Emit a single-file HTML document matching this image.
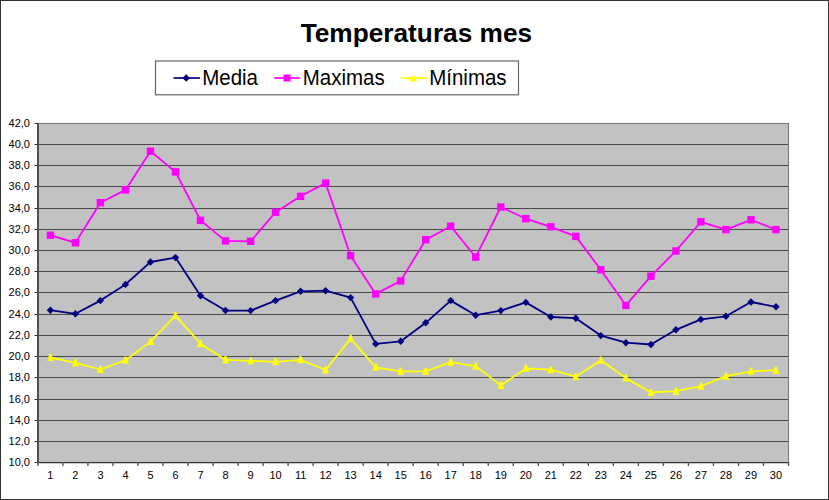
<!DOCTYPE html><html><head><meta charset="utf-8"><style>
html,body{margin:0;padding:0;background:#fff;overflow:hidden;width:829px;height:500px;}
svg{display:block;}
text{font-family:"Liberation Sans",sans-serif;}
</style></head><body>
<svg width="829" height="500" viewBox="0 0 829 500">
<rect x="0" y="0" width="829" height="500" fill="#fff"/>
<rect x="0.5" y="0.5" width="828" height="499" fill="none" stroke="#333" stroke-width="1"/>
<text x="416.4" y="41.9" text-anchor="middle" font-weight="bold" font-size="25.7" fill="#000" transform="translate(416.4 0) scale(1.022 1) translate(-416.4 0)">Temperaturas mes</text>
<rect x="155.5" y="61" width="363" height="33.8" fill="#fff" stroke="#666" stroke-width="1.2"/>
<line x1="173.5" y1="78" x2="200" y2="78" stroke="#000080" stroke-width="1.7"/>
<path d="M186.2 74.3 L189.9 78 L186.2 81.7 L182.5 78 Z" fill="#000080"/>
<text x="0" y="85.0" font-size="21.5" fill="#000" transform="translate(202.2 0) scale(0.953 1)">Media</text>
<line x1="274.2" y1="78" x2="300" y2="78" stroke="#ff00ff" stroke-width="1.7"/>
<rect x="283.5" y="74.5" width="7" height="7" fill="#ff00ff"/>
<text x="0" y="85.0" font-size="21.5" fill="#000" transform="translate(302.7 0) scale(0.953 1)">Maximas</text>
<line x1="400.7" y1="78" x2="427" y2="78" stroke="#ffff00" stroke-width="1.7"/>
<path d="M413.2 74.2 L417 81.2 L409.4 81.2 Z" fill="#ffff00"/>
<text x="0" y="85.0" font-size="21.5" fill="#000" transform="translate(429.2 0) scale(0.953 1)">Mínimas</text>
<rect x="38" y="123" width="750" height="339" fill="#c2c2c2"/>
<line x1="38" y1="144.5" x2="788" y2="144.5" stroke="#4a4a4a" stroke-width="1.0"/>
<line x1="38" y1="165.5" x2="788" y2="165.5" stroke="#4a4a4a" stroke-width="1.0"/>
<line x1="38" y1="186.5" x2="788" y2="186.5" stroke="#4a4a4a" stroke-width="1.0"/>
<line x1="38" y1="208.5" x2="788" y2="208.5" stroke="#4a4a4a" stroke-width="1.0"/>
<line x1="38" y1="229.5" x2="788" y2="229.5" stroke="#4a4a4a" stroke-width="1.0"/>
<line x1="38" y1="250.5" x2="788" y2="250.5" stroke="#4a4a4a" stroke-width="1.0"/>
<line x1="38" y1="271.5" x2="788" y2="271.5" stroke="#4a4a4a" stroke-width="1.0"/>
<line x1="38" y1="292.5" x2="788" y2="292.5" stroke="#4a4a4a" stroke-width="1.0"/>
<line x1="38" y1="314.5" x2="788" y2="314.5" stroke="#4a4a4a" stroke-width="1.0"/>
<line x1="38" y1="335.5" x2="788" y2="335.5" stroke="#4a4a4a" stroke-width="1.0"/>
<line x1="38" y1="356.5" x2="788" y2="356.5" stroke="#4a4a4a" stroke-width="1.0"/>
<line x1="38" y1="377.5" x2="788" y2="377.5" stroke="#4a4a4a" stroke-width="1.0"/>
<line x1="38" y1="399.5" x2="788" y2="399.5" stroke="#4a4a4a" stroke-width="1.0"/>
<line x1="38" y1="420.5" x2="788" y2="420.5" stroke="#4a4a4a" stroke-width="1.0"/>
<line x1="38" y1="441.5" x2="788" y2="441.5" stroke="#4a4a4a" stroke-width="1.0"/>
<line x1="38" y1="123.44" x2="789" y2="123.44" stroke="#787878" stroke-width="1"/>
<line x1="788.5" y1="123" x2="788.5" y2="462" stroke="#787878" stroke-width="1"/>
<rect x="37" y="123" width="2" height="340" fill="#505050"/>
<line x1="37" y1="462.6" x2="789" y2="462.6" stroke="#333" stroke-width="1.3"/>
<line x1="34.5" y1="123.5" x2="38" y2="123.5" stroke="#333" stroke-width="1"/>
<text x="30" y="127.04" text-anchor="end" font-size="11" fill="#000">42,0</text>
<line x1="34.5" y1="144.5" x2="38" y2="144.5" stroke="#333" stroke-width="1"/>
<text x="30" y="147.60" text-anchor="end" font-size="11" fill="#000">40,0</text>
<line x1="34.5" y1="165.5" x2="38" y2="165.5" stroke="#333" stroke-width="1"/>
<text x="30" y="168.90" text-anchor="end" font-size="11" fill="#000">38,0</text>
<line x1="34.5" y1="186.5" x2="38" y2="186.5" stroke="#333" stroke-width="1"/>
<text x="30" y="190.40" text-anchor="end" font-size="11" fill="#000">36,0</text>
<line x1="34.5" y1="208.5" x2="38" y2="208.5" stroke="#333" stroke-width="1"/>
<text x="30" y="211.60" text-anchor="end" font-size="11" fill="#000">34,0</text>
<line x1="34.5" y1="229.5" x2="38" y2="229.5" stroke="#333" stroke-width="1"/>
<text x="30" y="232.90" text-anchor="end" font-size="11" fill="#000">32,0</text>
<line x1="34.5" y1="250.5" x2="38" y2="250.5" stroke="#333" stroke-width="1"/>
<text x="30" y="253.90" text-anchor="end" font-size="11" fill="#000">30,0</text>
<line x1="34.5" y1="271.5" x2="38" y2="271.5" stroke="#333" stroke-width="1"/>
<text x="30" y="274.90" text-anchor="end" font-size="11" fill="#000">28,0</text>
<line x1="34.5" y1="292.5" x2="38" y2="292.5" stroke="#333" stroke-width="1"/>
<text x="30" y="296.40" text-anchor="end" font-size="11" fill="#000">26,0</text>
<line x1="34.5" y1="314.5" x2="38" y2="314.5" stroke="#333" stroke-width="1"/>
<text x="30" y="317.60" text-anchor="end" font-size="11" fill="#000">24,0</text>
<line x1="34.5" y1="335.5" x2="38" y2="335.5" stroke="#333" stroke-width="1"/>
<text x="30" y="338.90" text-anchor="end" font-size="11" fill="#000">22,0</text>
<line x1="34.5" y1="356.5" x2="38" y2="356.5" stroke="#333" stroke-width="1"/>
<text x="30" y="359.90" text-anchor="end" font-size="11" fill="#000">20,0</text>
<line x1="34.5" y1="377.5" x2="38" y2="377.5" stroke="#333" stroke-width="1"/>
<text x="30" y="381.00" text-anchor="end" font-size="11" fill="#000">18,0</text>
<line x1="34.5" y1="399.5" x2="38" y2="399.5" stroke="#333" stroke-width="1"/>
<text x="30" y="403.00" text-anchor="end" font-size="11" fill="#000">16,0</text>
<line x1="34.5" y1="420.5" x2="38" y2="420.5" stroke="#333" stroke-width="1"/>
<text x="30" y="424.00" text-anchor="end" font-size="11" fill="#000">14,0</text>
<line x1="34.5" y1="441.5" x2="38" y2="441.5" stroke="#333" stroke-width="1"/>
<text x="30" y="445.00" text-anchor="end" font-size="11" fill="#000">12,0</text>
<line x1="34.5" y1="462.5" x2="38" y2="462.5" stroke="#333" stroke-width="1"/>
<text x="30" y="466.10" text-anchor="end" font-size="11" fill="#000">10,0</text>
<line x1="37.90" y1="462" x2="37.90" y2="466" stroke="#555" stroke-width="1.4"/>
<line x1="62.92" y1="462" x2="62.92" y2="466" stroke="#555" stroke-width="1.4"/>
<line x1="87.94" y1="462" x2="87.94" y2="466" stroke="#555" stroke-width="1.4"/>
<line x1="112.96" y1="462" x2="112.96" y2="466" stroke="#555" stroke-width="1.4"/>
<line x1="137.98" y1="462" x2="137.98" y2="466" stroke="#555" stroke-width="1.4"/>
<line x1="163.00" y1="462" x2="163.00" y2="466" stroke="#555" stroke-width="1.4"/>
<line x1="188.02" y1="462" x2="188.02" y2="466" stroke="#555" stroke-width="1.4"/>
<line x1="213.04" y1="462" x2="213.04" y2="466" stroke="#555" stroke-width="1.4"/>
<line x1="238.06" y1="462" x2="238.06" y2="466" stroke="#555" stroke-width="1.4"/>
<line x1="263.08" y1="462" x2="263.08" y2="466" stroke="#555" stroke-width="1.4"/>
<line x1="288.10" y1="462" x2="288.10" y2="466" stroke="#555" stroke-width="1.4"/>
<line x1="313.12" y1="462" x2="313.12" y2="466" stroke="#555" stroke-width="1.4"/>
<line x1="338.14" y1="462" x2="338.14" y2="466" stroke="#555" stroke-width="1.4"/>
<line x1="363.16" y1="462" x2="363.16" y2="466" stroke="#555" stroke-width="1.4"/>
<line x1="388.18" y1="462" x2="388.18" y2="466" stroke="#555" stroke-width="1.4"/>
<line x1="413.20" y1="462" x2="413.20" y2="466" stroke="#555" stroke-width="1.4"/>
<line x1="438.22" y1="462" x2="438.22" y2="466" stroke="#555" stroke-width="1.4"/>
<line x1="463.24" y1="462" x2="463.24" y2="466" stroke="#555" stroke-width="1.4"/>
<line x1="488.26" y1="462" x2="488.26" y2="466" stroke="#555" stroke-width="1.4"/>
<line x1="513.28" y1="462" x2="513.28" y2="466" stroke="#555" stroke-width="1.4"/>
<line x1="538.30" y1="462" x2="538.30" y2="466" stroke="#555" stroke-width="1.4"/>
<line x1="563.32" y1="462" x2="563.32" y2="466" stroke="#555" stroke-width="1.4"/>
<line x1="588.34" y1="462" x2="588.34" y2="466" stroke="#555" stroke-width="1.4"/>
<line x1="613.36" y1="462" x2="613.36" y2="466" stroke="#555" stroke-width="1.4"/>
<line x1="638.38" y1="462" x2="638.38" y2="466" stroke="#555" stroke-width="1.4"/>
<line x1="663.40" y1="462" x2="663.40" y2="466" stroke="#555" stroke-width="1.4"/>
<line x1="688.42" y1="462" x2="688.42" y2="466" stroke="#555" stroke-width="1.4"/>
<line x1="713.44" y1="462" x2="713.44" y2="466" stroke="#555" stroke-width="1.4"/>
<line x1="738.46" y1="462" x2="738.46" y2="466" stroke="#555" stroke-width="1.4"/>
<line x1="763.48" y1="462" x2="763.48" y2="466" stroke="#555" stroke-width="1.4"/>
<line x1="788.50" y1="462" x2="788.50" y2="466" stroke="#555" stroke-width="1.4"/>
<text x="50.4" y="478.7" text-anchor="middle" font-size="11" fill="#000">1</text>
<text x="75.42" y="478.7" text-anchor="middle" font-size="11" fill="#000">2</text>
<text x="100.44" y="478.7" text-anchor="middle" font-size="11" fill="#000">3</text>
<text x="125.46000000000001" y="478.7" text-anchor="middle" font-size="11" fill="#000">4</text>
<text x="150.48" y="478.7" text-anchor="middle" font-size="11" fill="#000">5</text>
<text x="175.5" y="478.7" text-anchor="middle" font-size="11" fill="#000">6</text>
<text x="200.52" y="478.7" text-anchor="middle" font-size="11" fill="#000">7</text>
<text x="225.54" y="478.7" text-anchor="middle" font-size="11" fill="#000">8</text>
<text x="250.56" y="478.7" text-anchor="middle" font-size="11" fill="#000">9</text>
<text x="275.58" y="478.7" text-anchor="middle" font-size="11" fill="#000">10</text>
<text x="300.59999999999997" y="478.7" text-anchor="middle" font-size="11" fill="#000">11</text>
<text x="325.61999999999995" y="478.7" text-anchor="middle" font-size="11" fill="#000">12</text>
<text x="350.64" y="478.7" text-anchor="middle" font-size="11" fill="#000">13</text>
<text x="375.65999999999997" y="478.7" text-anchor="middle" font-size="11" fill="#000">14</text>
<text x="400.67999999999995" y="478.7" text-anchor="middle" font-size="11" fill="#000">15</text>
<text x="425.7" y="478.7" text-anchor="middle" font-size="11" fill="#000">16</text>
<text x="450.71999999999997" y="478.7" text-anchor="middle" font-size="11" fill="#000">17</text>
<text x="475.73999999999995" y="478.7" text-anchor="middle" font-size="11" fill="#000">18</text>
<text x="500.76" y="478.7" text-anchor="middle" font-size="11" fill="#000">19</text>
<text x="525.78" y="478.7" text-anchor="middle" font-size="11" fill="#000">20</text>
<text x="550.8" y="478.7" text-anchor="middle" font-size="11" fill="#000">21</text>
<text x="575.8199999999999" y="478.7" text-anchor="middle" font-size="11" fill="#000">22</text>
<text x="600.8399999999999" y="478.7" text-anchor="middle" font-size="11" fill="#000">23</text>
<text x="625.86" y="478.7" text-anchor="middle" font-size="11" fill="#000">24</text>
<text x="650.88" y="478.7" text-anchor="middle" font-size="11" fill="#000">25</text>
<text x="675.9" y="478.7" text-anchor="middle" font-size="11" fill="#000">26</text>
<text x="700.92" y="478.7" text-anchor="middle" font-size="11" fill="#000">27</text>
<text x="725.9399999999999" y="478.7" text-anchor="middle" font-size="11" fill="#000">28</text>
<text x="750.9599999999999" y="478.7" text-anchor="middle" font-size="11" fill="#000">29</text>
<text x="775.98" y="478.7" text-anchor="middle" font-size="11" fill="#000">30</text>
<polyline points="50.4,310.2 75.4,313.8 100.4,300.6 125.5,284.4 150.5,262.0 175.5,257.6 200.5,295.8 225.5,310.5 250.6,310.6 275.6,300.6 300.6,291.3 325.6,290.7 350.6,297.6 375.7,343.9 400.7,341.3 425.7,322.8 450.7,300.6 475.7,315.2 500.8,310.6 525.8,302.4 550.8,317.0 575.8,318.2 600.8,335.6 625.9,342.7 650.9,344.5 675.9,329.8 700.9,319.4 725.9,316.3 751.0,302.0 776.0,306.8" fill="none" stroke="#000080" stroke-width="1.8" stroke-linejoin="round"/>
<path d="M50.4 306.5 L54.1 310.2 L50.4 313.9 L46.7 310.2 Z" fill="#000080"/>
<path d="M75.4 310.1 L79.1 313.8 L75.4 317.5 L71.7 313.8 Z" fill="#000080"/>
<path d="M100.4 296.9 L104.1 300.6 L100.4 304.3 L96.7 300.6 Z" fill="#000080"/>
<path d="M125.5 280.7 L129.2 284.4 L125.5 288.1 L121.8 284.4 Z" fill="#000080"/>
<path d="M150.5 258.3 L154.2 262.0 L150.5 265.7 L146.8 262.0 Z" fill="#000080"/>
<path d="M175.5 253.9 L179.2 257.6 L175.5 261.3 L171.8 257.6 Z" fill="#000080"/>
<path d="M200.5 292.1 L204.2 295.8 L200.5 299.5 L196.8 295.8 Z" fill="#000080"/>
<path d="M225.5 306.8 L229.2 310.5 L225.5 314.2 L221.8 310.5 Z" fill="#000080"/>
<path d="M250.6 306.9 L254.3 310.6 L250.6 314.3 L246.9 310.6 Z" fill="#000080"/>
<path d="M275.6 296.9 L279.3 300.6 L275.6 304.3 L271.9 300.6 Z" fill="#000080"/>
<path d="M300.6 287.6 L304.3 291.3 L300.6 295.0 L296.9 291.3 Z" fill="#000080"/>
<path d="M325.6 287.0 L329.3 290.7 L325.6 294.4 L321.9 290.7 Z" fill="#000080"/>
<path d="M350.6 293.9 L354.3 297.6 L350.6 301.3 L346.9 297.6 Z" fill="#000080"/>
<path d="M375.7 340.2 L379.4 343.9 L375.7 347.6 L372.0 343.9 Z" fill="#000080"/>
<path d="M400.7 337.6 L404.4 341.3 L400.7 345.0 L397.0 341.3 Z" fill="#000080"/>
<path d="M425.7 319.1 L429.4 322.8 L425.7 326.5 L422.0 322.8 Z" fill="#000080"/>
<path d="M450.7 296.9 L454.4 300.6 L450.7 304.3 L447.0 300.6 Z" fill="#000080"/>
<path d="M475.7 311.5 L479.4 315.2 L475.7 318.9 L472.0 315.2 Z" fill="#000080"/>
<path d="M500.8 306.9 L504.5 310.6 L500.8 314.3 L497.1 310.6 Z" fill="#000080"/>
<path d="M525.8 298.7 L529.5 302.4 L525.8 306.1 L522.1 302.4 Z" fill="#000080"/>
<path d="M550.8 313.3 L554.5 317.0 L550.8 320.7 L547.1 317.0 Z" fill="#000080"/>
<path d="M575.8 314.5 L579.5 318.2 L575.8 321.9 L572.1 318.2 Z" fill="#000080"/>
<path d="M600.8 331.9 L604.5 335.6 L600.8 339.3 L597.1 335.6 Z" fill="#000080"/>
<path d="M625.9 339.0 L629.6 342.7 L625.9 346.4 L622.2 342.7 Z" fill="#000080"/>
<path d="M650.9 340.8 L654.6 344.5 L650.9 348.2 L647.2 344.5 Z" fill="#000080"/>
<path d="M675.9 326.1 L679.6 329.8 L675.9 333.5 L672.2 329.8 Z" fill="#000080"/>
<path d="M700.9 315.7 L704.6 319.4 L700.9 323.1 L697.2 319.4 Z" fill="#000080"/>
<path d="M725.9 312.6 L729.6 316.3 L725.9 320.0 L722.2 316.3 Z" fill="#000080"/>
<path d="M751.0 298.3 L754.7 302.0 L751.0 305.7 L747.3 302.0 Z" fill="#000080"/>
<path d="M776.0 303.1 L779.7 306.8 L776.0 310.5 L772.3 306.8 Z" fill="#000080"/>
<polyline points="50.4,235.2 75.4,242.8 100.4,202.7 125.5,189.9 150.5,151.2 175.5,171.9 200.5,220.4 225.5,240.9 250.6,241.3 275.6,212.2 300.6,196.3 325.6,183.1 350.6,255.7 375.7,294.0 400.7,280.9 425.7,239.7 450.7,226.2 475.7,257.1 500.8,207.0 525.8,218.7 550.8,226.8 575.8,236.4 600.8,269.7 625.9,305.4 650.9,276.2 675.9,251.0 700.9,221.8 725.9,229.6 751.0,219.8 776.0,229.6" fill="none" stroke="#ff00ff" stroke-width="1.8" stroke-linejoin="round"/>
<rect x="46.7" y="231.5" width="7.4" height="7.4" fill="#ff00ff"/>
<rect x="71.7" y="239.1" width="7.4" height="7.4" fill="#ff00ff"/>
<rect x="96.7" y="199.0" width="7.4" height="7.4" fill="#ff00ff"/>
<rect x="121.8" y="186.2" width="7.4" height="7.4" fill="#ff00ff"/>
<rect x="146.8" y="147.5" width="7.4" height="7.4" fill="#ff00ff"/>
<rect x="171.8" y="168.2" width="7.4" height="7.4" fill="#ff00ff"/>
<rect x="196.8" y="216.7" width="7.4" height="7.4" fill="#ff00ff"/>
<rect x="221.8" y="237.2" width="7.4" height="7.4" fill="#ff00ff"/>
<rect x="246.9" y="237.6" width="7.4" height="7.4" fill="#ff00ff"/>
<rect x="271.9" y="208.5" width="7.4" height="7.4" fill="#ff00ff"/>
<rect x="296.9" y="192.6" width="7.4" height="7.4" fill="#ff00ff"/>
<rect x="321.9" y="179.4" width="7.4" height="7.4" fill="#ff00ff"/>
<rect x="346.9" y="252.0" width="7.4" height="7.4" fill="#ff00ff"/>
<rect x="372.0" y="290.3" width="7.4" height="7.4" fill="#ff00ff"/>
<rect x="397.0" y="277.2" width="7.4" height="7.4" fill="#ff00ff"/>
<rect x="422.0" y="236.0" width="7.4" height="7.4" fill="#ff00ff"/>
<rect x="447.0" y="222.5" width="7.4" height="7.4" fill="#ff00ff"/>
<rect x="472.0" y="253.4" width="7.4" height="7.4" fill="#ff00ff"/>
<rect x="497.1" y="203.3" width="7.4" height="7.4" fill="#ff00ff"/>
<rect x="522.1" y="215.0" width="7.4" height="7.4" fill="#ff00ff"/>
<rect x="547.1" y="223.1" width="7.4" height="7.4" fill="#ff00ff"/>
<rect x="572.1" y="232.7" width="7.4" height="7.4" fill="#ff00ff"/>
<rect x="597.1" y="266.0" width="7.4" height="7.4" fill="#ff00ff"/>
<rect x="622.2" y="301.7" width="7.4" height="7.4" fill="#ff00ff"/>
<rect x="647.2" y="272.5" width="7.4" height="7.4" fill="#ff00ff"/>
<rect x="672.2" y="247.3" width="7.4" height="7.4" fill="#ff00ff"/>
<rect x="697.2" y="218.1" width="7.4" height="7.4" fill="#ff00ff"/>
<rect x="722.2" y="225.9" width="7.4" height="7.4" fill="#ff00ff"/>
<rect x="747.3" y="216.1" width="7.4" height="7.4" fill="#ff00ff"/>
<rect x="772.3" y="225.9" width="7.4" height="7.4" fill="#ff00ff"/>
<polyline points="50.4,357.5 75.4,362.9 100.4,369.5 125.5,360.2 150.5,341.6 175.5,315.6 200.5,343.7 225.5,359.9 250.6,360.8 275.6,361.8 300.6,359.8 325.6,370.0 350.6,338.6 375.7,367.3 400.7,371.3 425.7,371.4 450.7,362.2 475.7,366.3 500.8,385.4 525.8,368.5 550.8,369.7 575.8,376.7 600.8,360.3 625.9,378.1 650.9,392.5 675.9,391.2 700.9,386.2 725.9,376.2 751.0,371.3 776.0,370.2" fill="none" stroke="#ffff00" stroke-width="1.8" stroke-linejoin="round"/>
<path d="M49.5 353.7 L51.3 353.7 L53.8 361.0 L47.0 361.0 Z" fill="#ffff00"/>
<path d="M74.5 359.1 L76.3 359.1 L78.8 366.4 L72.0 366.4 Z" fill="#ffff00"/>
<path d="M99.5 365.7 L101.3 365.7 L103.8 373.0 L97.0 373.0 Z" fill="#ffff00"/>
<path d="M124.6 356.4 L126.4 356.4 L128.9 363.7 L122.1 363.7 Z" fill="#ffff00"/>
<path d="M149.6 337.8 L151.4 337.8 L153.9 345.1 L147.1 345.1 Z" fill="#ffff00"/>
<path d="M174.6 311.8 L176.4 311.8 L178.9 319.1 L172.1 319.1 Z" fill="#ffff00"/>
<path d="M199.6 339.9 L201.4 339.9 L203.9 347.2 L197.1 347.2 Z" fill="#ffff00"/>
<path d="M224.6 356.1 L226.4 356.1 L228.9 363.4 L222.1 363.4 Z" fill="#ffff00"/>
<path d="M249.7 357.0 L251.5 357.0 L254.0 364.3 L247.2 364.3 Z" fill="#ffff00"/>
<path d="M274.7 358.0 L276.5 358.0 L279.0 365.3 L272.2 365.3 Z" fill="#ffff00"/>
<path d="M299.7 356.0 L301.5 356.0 L304.0 363.3 L297.2 363.3 Z" fill="#ffff00"/>
<path d="M324.7 366.2 L326.5 366.2 L329.0 373.5 L322.2 373.5 Z" fill="#ffff00"/>
<path d="M349.7 334.8 L351.5 334.8 L354.0 342.1 L347.2 342.1 Z" fill="#ffff00"/>
<path d="M374.8 363.5 L376.6 363.5 L379.1 370.8 L372.3 370.8 Z" fill="#ffff00"/>
<path d="M399.8 367.5 L401.6 367.5 L404.1 374.8 L397.3 374.8 Z" fill="#ffff00"/>
<path d="M424.8 367.6 L426.6 367.6 L429.1 374.9 L422.3 374.9 Z" fill="#ffff00"/>
<path d="M449.8 358.4 L451.6 358.4 L454.1 365.7 L447.3 365.7 Z" fill="#ffff00"/>
<path d="M474.8 362.5 L476.6 362.5 L479.1 369.8 L472.3 369.8 Z" fill="#ffff00"/>
<path d="M499.9 381.6 L501.7 381.6 L504.2 388.9 L497.4 388.9 Z" fill="#ffff00"/>
<path d="M524.9 364.7 L526.7 364.7 L529.2 372.0 L522.4 372.0 Z" fill="#ffff00"/>
<path d="M549.9 365.9 L551.7 365.9 L554.2 373.2 L547.4 373.2 Z" fill="#ffff00"/>
<path d="M574.9 372.9 L576.7 372.9 L579.2 380.2 L572.4 380.2 Z" fill="#ffff00"/>
<path d="M599.9 356.5 L601.7 356.5 L604.2 363.8 L597.4 363.8 Z" fill="#ffff00"/>
<path d="M625.0 374.3 L626.8 374.3 L629.3 381.6 L622.5 381.6 Z" fill="#ffff00"/>
<path d="M650.0 388.7 L651.8 388.7 L654.3 396.0 L647.5 396.0 Z" fill="#ffff00"/>
<path d="M675.0 387.4 L676.8 387.4 L679.3 394.7 L672.5 394.7 Z" fill="#ffff00"/>
<path d="M700.0 382.4 L701.8 382.4 L704.3 389.7 L697.5 389.7 Z" fill="#ffff00"/>
<path d="M725.0 372.4 L726.8 372.4 L729.3 379.7 L722.5 379.7 Z" fill="#ffff00"/>
<path d="M750.1 367.5 L751.9 367.5 L754.4 374.8 L747.6 374.8 Z" fill="#ffff00"/>
<path d="M775.1 366.4 L776.9 366.4 L779.4 373.7 L772.6 373.7 Z" fill="#ffff00"/>
</svg></body></html>
